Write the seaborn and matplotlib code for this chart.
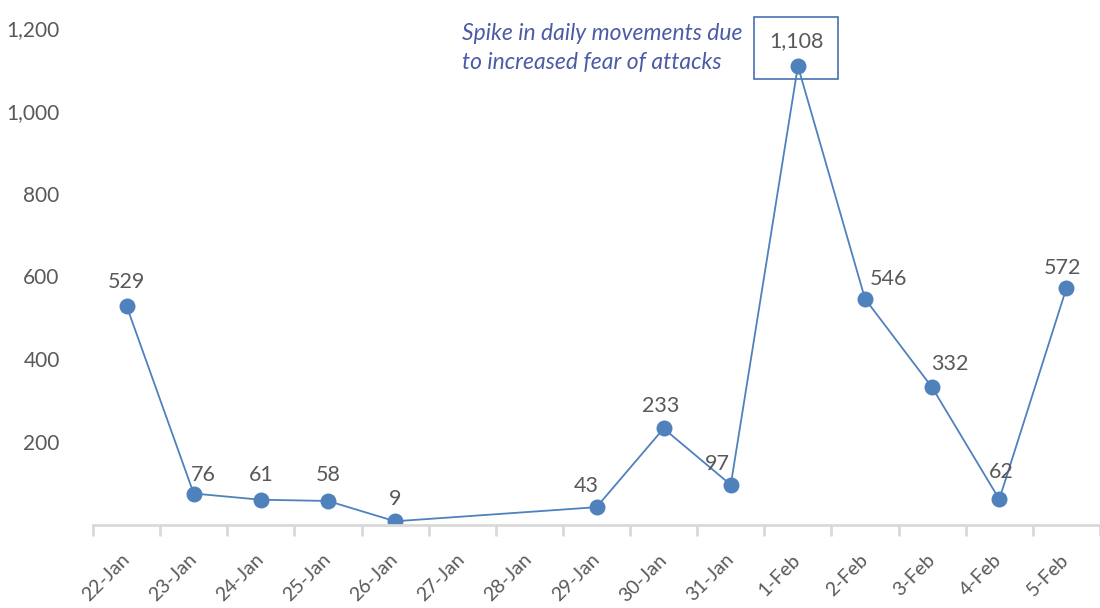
import numpy as np
import pandas as pd
import matplotlib
matplotlib.use("Agg")
import matplotlib.pyplot as plt
from matplotlib.ticker import FixedLocator, FuncFormatter
from matplotlib.patches import Rectangle
from matplotlib.transforms import ScaledTranslation
import seaborn as sns

# ---- data ----
dates = ["22-Jan", "23-Jan", "24-Jan", "25-Jan", "26-Jan", "27-Jan", "28-Jan",
         "29-Jan", "30-Jan", "31-Jan", "1-Feb", "2-Feb", "3-Feb", "4-Feb", "5-Feb"]
movements = [529, 76, 61, 58, 9, np.nan, np.nan, 43, 233, 97, 1108, 546, 332, 62, 572]
y_ticks = [200, 400, 600, 800, 1000, 1200]
note_text = "Spike in daily movements due\nto increased fear of attacks"

# label offsets in pixels (layout only)
label_offsets = {0: (0, 24), 1: (10, 19), 2: (0, 25), 3: (0, 26), 4: (0, 22),
                 7: (-10, 21), 8: (-3, 22), 9: (-13, 21), 10: (-1, 25),
                 11: (23, 20), 12: (18, 23), 13: (2, 27), 14: (-4, 20)}

sns.set_theme(style="white")
plt.rcParams["font.family"] = ["Lato", "DejaVu Sans"]

blue = "#4F81BD"
gray = "#595959"

fig = plt.figure(figsize=(11, 6.08), dpi=100)
ax = fig.add_axes([93 / 1100, 83 / 608, 1 - 93 / 1100, (525 - 28) / 608])

df = pd.DataFrame({"pos": np.arange(len(dates)), "date": dates, "value": movements}).dropna()
sns.lineplot(data=df, x="pos", y="value", ax=ax, color=blue, linewidth=1.3,
             marker="o", markersize=11.5, markeredgewidth=0, markerfacecolor=blue)

ax.set_xlim(-0.5, len(dates) - 0.5)
ax.set_ylim(0, 1200)
ax.set_xlabel("")
ax.set_ylabel("")

ax.set_xticks(np.arange(len(dates)))
ax.set_xticklabels(dates, rotation=45, ha="right", va="center", rotation_mode="anchor",
                   fontsize=14, color=gray)
shift = ScaledTranslation(9 / 100, 0, fig.dpi_scale_trans)
for lbl in ax.get_xticklabels():
    lbl.set_transform(lbl.get_transform() + shift)
ax.xaxis.set_minor_locator(FixedLocator(np.arange(-0.5, len(dates), 1)))
ax.tick_params(axis="x", which="major", length=0, pad=23)
ax.tick_params(axis="x", which="minor", length=8, width=2, color="#D9D9D9", direction="out")
ax.tick_params(axis="x", which="both", bottom=True)

ax.set_yticks(y_ticks)
ax.yaxis.set_major_formatter(FuncFormatter(lambda v, p: f"{int(v):,}"))
ax.tick_params(axis="y", length=0, pad=24, labelsize=15, labelcolor=gray)

for s in ["left", "top", "right"]:
    ax.spines[s].set_visible(False)
ax.spines["bottom"].set_color("#D9D9D9")
ax.spines["bottom"].set_linewidth(2)

for i, v in enumerate(movements):
    if np.isnan(v):
        continue
    dx, dy = label_offsets[i]
    ax.annotate(f"{int(v):,}", (i, v), xytext=(dx, dy), textcoords="offset pixels",
                ha="center", va="center", fontsize=15.5, color=gray, annotation_clip=False)

# box around the spike label
ax.add_patch(Rectangle((10 - 44 / 67.1, 1077), 84 / 67.1, 150, fill=False,
                       edgecolor="#4A6FB5", linewidth=1.2, clip_on=False))

fig.text(462 / 1100, 1 - 48 / 608, note_text, ha="left", va="center", fontsize=16.5,
         style="italic", color="#4B5BA6", linespacing=1.5)

fig.savefig("out.png", dpi=100)
